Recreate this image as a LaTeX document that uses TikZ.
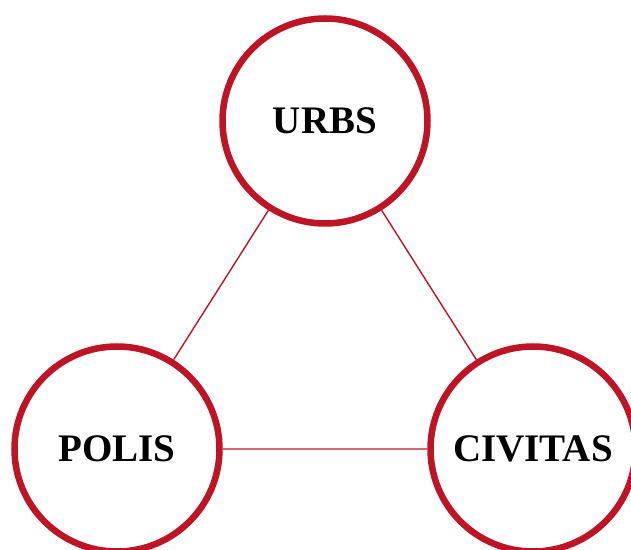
\documentclass[tikz,border=0pt]{standalone}
\usepackage{fontspec}
\setmainfont{Liberation Serif}
\definecolor{ringred}{RGB}{190,21,38}
\begin{document}
\begin{tikzpicture}[x=1pt,y=1pt,
    ring/.style={circle,draw=ringred,line width=6.5pt,fill=white,inner sep=0pt,minimum size=205pt,font=\fontsize{39}{39}\selectfont\bfseries},
    link/.style={draw=ringred,line width=1.4pt}]
        \useasboundingbox (0,0) rectangle (631,549);
        \draw (325,428) node[ring](urbs){URBS};
        \draw (117,100) node[ring](polis){POLIS};
        \draw (533,100) node[ring](civitas){CIVITAS};
        \draw[link]
          (urbs) -- (polis)
          (urbs) -- (civitas)
          (polis) -- (civitas)
        ;
      \end{tikzpicture}
\end{document}
